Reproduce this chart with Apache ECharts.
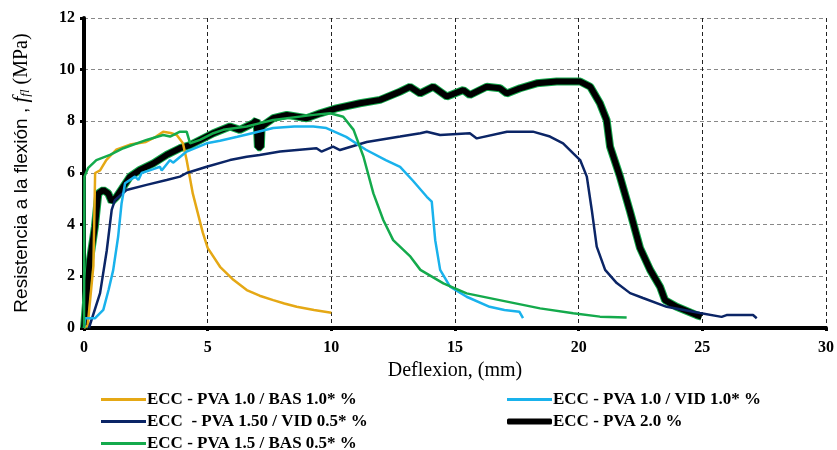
<!DOCTYPE html>
<html>
<head>
<meta charset="utf-8">
<script src="https://cdn.jsdelivr.net/npm/echarts@6/dist/echarts.min.js"></script>
<style>
  html, body { margin: 0; padding: 0; background: #fff; }
  #chart { width: 837px; height: 450px; }
</style>
</head>
<body>
<div id="chart"></div>
<script>
// curvas carga-deflexion (x = deflexion mm, y = MPa)
var pva10bas10 = [[0,0],[0.15,0.1],[0.38,2.4],[0.45,6.0],[0.65,6.1],[0.9,6.5],[1.3,6.9],[1.86,7.1],[2.5,7.2],[2.9,7.4],[3.2,7.6],[3.5,7.55],[3.75,7.47],[4.0,7.15],[4.15,6.5],[4.4,5.2],[4.8,3.7],[5.0,3.1],[5.5,2.37],[6.0,1.9],[6.58,1.47],[7.1,1.25],[7.65,1.08],[8.1,0.95],[8.6,0.82],[9.3,0.7],[10.0,0.59]];
var pva10vid10 = [[0,0],[0.05,0.38],[0.45,0.38],[0.78,0.7],[1.0,1.5],[1.18,2.24],[1.38,3.53],[1.52,4.83],[1.66,5.6],[2.06,5.86],[2.2,5.73],[2.33,6.0],[2.8,6.15],[3.07,6.24],[3.14,6.1],[3.48,6.5],[3.6,6.4],[4.15,6.83],[4.96,7.15],[5.5,7.25],[6.2,7.4],[6.84,7.55],[7.65,7.74],[8.5,7.8],[9.27,7.8],[9.8,7.74],[10.6,7.4],[11.4,6.9],[12.2,6.5],[12.78,6.24],[13.3,5.7],[13.86,5.08],[14.06,4.89],[14.2,3.4],[14.4,2.25],[14.8,1.6],[15.47,1.21],[16.4,0.82],[17.0,0.7],[17.6,0.63],[17.75,0.38]];
var pva15vid05 = [[0.2,0],[0.65,1.35],[0.92,3.0],[1.12,4.57],[1.25,4.95],[1.72,5.34],[2.53,5.54],[3.34,5.73],[3.88,5.86],[4.15,6.0],[4.96,6.24],[5.9,6.5],[6.58,6.63],[7.1,6.7],[7.93,6.83],[9.4,6.96],[9.6,6.83],[10.07,7.02],[10.35,6.89],[11.43,7.2],[12.78,7.41],[13.6,7.54],[13.86,7.6],[14.4,7.47],[15.6,7.54],[15.88,7.34],[17.1,7.6],[18.15,7.6],[18.84,7.41],[19.37,7.15],[19.78,6.76],[20.06,6.5],[20.33,5.86],[20.53,4.57],[20.73,3.15],[21.07,2.25],[21.54,1.74],[22.08,1.35],[22.6,1.16],[23.56,0.82],[24.9,0.58],[25.78,0.43],[25.98,0.5],[27.05,0.5],[27.2,0.38]];
var pva20 = [[0,0],[0.1,1.21],[0.24,2.63],[0.44,3.92],[0.58,5.21],[0.78,5.34],[0.98,5.21],[1.12,4.89],[1.32,5.08],[1.59,5.47],[1.86,5.86],[2.26,6.12],[2.8,6.37],[3.34,6.7],[3.88,6.96],[4.29,7.08],[5.23,7.54],[5.9,7.8],[6.3,7.67],[6.85,7.93],[6.98,8.05],[7.03,7.0],[7.15,7.0],[7.18,7.8],[7.65,8.12],[8.2,8.25],[9.0,8.12],[9.54,8.31],[10.2,8.5],[11.16,8.7],[11.97,8.83],[12.78,9.15],[13.18,9.34],[13.59,9.08],[14.12,9.34],[14.67,8.96],[15.34,9.21],[15.6,9.02],[16.28,9.34],[16.82,9.28],[17.09,9.08],[17.63,9.28],[18.3,9.47],[19.11,9.54],[20.06,9.54],[20.47,9.34],[20.86,8.7],[21.13,8.05],[21.27,7.02],[21.67,5.86],[22.08,4.5],[22.48,3.1],[22.89,2.25],[23.29,1.6],[23.49,1.08],[23.96,0.82],[24.77,0.5],[24.97,0.44]];
var pva15bas05 = [[0,0],[0.02,5.86],[0.17,6.2],[0.5,6.5],[1.05,6.7],[1.59,6.96],[2.53,7.28],[3.2,7.47],[3.48,7.41],[3.88,7.6],[4.15,7.6],[4.29,7.15],[4.69,7.28],[5.23,7.54],[5.63,7.67],[6.58,7.8],[7.12,7.93],[7.65,8.05],[9.27,8.25],[9.95,8.31],[10.48,8.18],[10.9,7.67],[11.3,6.63],[11.7,5.21],[12.1,4.18],[12.5,3.4],[13.2,2.76],[13.6,2.25],[14.53,1.73],[15.47,1.34],[16.8,1.08],[18.44,0.76],[19.78,0.57],[20.86,0.44],[21.94,0.41]];

var names = [
  "ECC - PVA 1.0 / BAS 1.0* %",
  "ECC - PVA 1.0 / VID 1.0* %",
  "ECC  - PVA 1.50 / VID 0.5* %",
  "ECC - PVA 2.0 %",
  "ECC - PVA 1.5 / BAS 0.5* %"
];
var colores = ["#E5A815", "#19B2EC", "#0B2566", "#000000", "#14AA4C"];

var chart = echarts.init(document.getElementById("chart"));
var serif = "'Liberation Serif', 'Times New Roman', serif";

function linea(nombre, datos, color, ancho, z) {
  return {
    name: nombre,
    type: "line",
    data: datos,
    showSymbol: false,
    symbol: "none",
    z: z,
    lineStyle: { color: color, width: ancho },
    itemStyle: { color: color }
  };
}

// una leyenda por entrada, para colocarlas en dos columnas
function leyenda(nombre, x, y, grosor, icono) {
  return {
    left: x,
    top: y,
    itemWidth: 45,
    itemHeight: grosor,
    itemGap: 0,
    icon: icono || "rect",
    textStyle: { fontFamily: serif, fontWeight: "bold", fontSize: 17, color: "#000", padding: [0, 0, 0, -4] },
    data: [nombre]
  };
}

var option = {
  animation: false,
  grid: { left: 84, right: 11, top: 18, bottom: 122 },
  legend: [
    leyenda(names[0], 96, 386, 3),
    leyenda(names[2], 96, 408, 3),
    leyenda(names[4], 96, 430, 3),
    leyenda(names[1], 502, 386, 3),
    leyenda(names[3], 502, 408, 6, "roundRect")
  ],
  xAxis: {
    type: "value",
    min: 0,
    max: 30,
    interval: 5,
    name: "Deflexion, (mm)",
    nameLocation: "middle",
    nameGap: 22,
    nameTextStyle: { fontFamily: serif, fontSize: 20, color: "#000" },
    axisLine: { onZero: false, lineStyle: { color: "#000", width: 4 } },
    axisTick: { show: true, length: 3, lineStyle: { color: "#000", width: 3 } },
    axisLabel: { fontFamily: serif, fontWeight: "bold", fontSize: 16, color: "#000", margin: 12 },
    splitLine: { show: true, lineStyle: { color: "#222", type: [4, 3], width: 1 } }
  },
  yAxis: {
    type: "value",
    min: 0,
    max: 12,
    interval: 2,
    name: "{a|Resistencia a la flexión ,}{f| f}{s|fl}{m| (MPa)}",
    nameLocation: "middle",
    nameGap: 52,
    nameTextStyle: {
      color: "#000",
      rich: {
        a: { fontFamily: "'Liberation Sans', Arial, sans-serif", fontSize: 19, color: "#000" },
        f: { fontFamily: serif, fontStyle: "italic", fontSize: 21, color: "#000" },
        s: { fontFamily: serif, fontStyle: "italic", fontSize: 13, color: "#000", verticalAlign: "bottom", lineHeight: 20 },
        m: { fontFamily: serif, fontSize: 20, color: "#000" }
      }
    },
    axisLine: { onZero: false, lineStyle: { color: "#000", width: 4 } },
    axisTick: { show: true, length: 4, lineStyle: { color: "#000", width: 3 } },
    axisLabel: { fontFamily: serif, fontWeight: "bold", fontSize: 16, color: "#000", margin: 9 },
    splitLine: { show: true, lineStyle: { color: "#888", type: [4, 3], width: 1 } }
  },
  series: [
    linea("borde", pva20, colores[4], 8, 2),
    linea(names[3], pva20, colores[3], 6, 3),
    linea(names[0], pva10bas10, colores[0], 2.5, 4),
    linea(names[2], pva15vid05, colores[2], 2.5, 4),
    linea(names[1], pva10vid10, colores[1], 2.5, 5),
    linea(names[4], pva15bas05, colores[4], 2.5, 6)
  ]
};
chart.setOption(option);
</script>
</body>
</html>
